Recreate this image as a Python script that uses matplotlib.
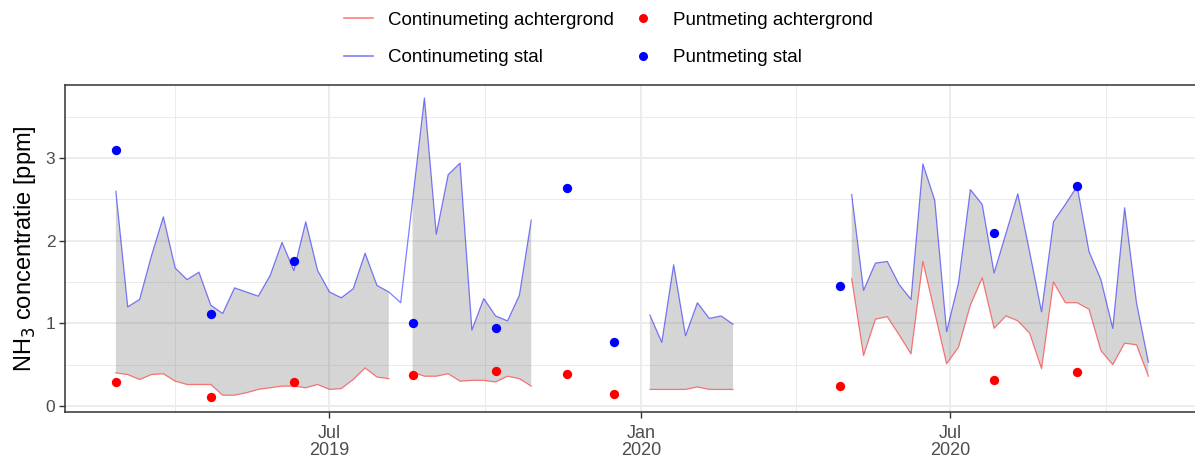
import numpy as np
import pandas as pd
import matplotlib
matplotlib.use("Agg")
import matplotlib.pyplot as plt
from matplotlib.lines import Line2D

plt.rcParams['font.family'] = ['Liberation Sans', 'DejaVu Sans']

nan = np.nan

# weekly continuous measurements (NaN = no data)
week_start = "2019-02-25"
stal_cont = (
    [2.60, 1.20, 1.29, 1.82, 2.29, 1.67, 1.53, 1.62, 1.22, 1.12, 1.43, 1.38,
     1.33, 1.58, 1.98, 1.64, 2.23, 1.64, 1.38, 1.31, 1.42, 1.85, 1.46, 1.38, 1.25]
    + [2.49, 3.73, 2.08, 2.80, 2.94, 0.92, 1.30, 1.09, 1.03, 1.34, 2.25]
    + [nan] * 9
    + [1.10, 0.77, 1.71, 0.85, 1.25, 1.06, 1.09, 0.99]
    + [nan] * 9
    + [2.56, 1.40, 1.73, 1.75, 1.47, 1.29, 2.93, 2.49, 0.90, 1.49, 2.62, 2.44, 1.61,
       2.09, 2.57, 1.86, 1.14, 2.23, 2.44, 2.66, 1.87, 1.53, 0.94, 2.40, 1.25, 0.53]
)
achter_cont = (
    [0.40, 0.38, 0.32, 0.38, 0.39, 0.30, 0.26, 0.26, 0.26, 0.13, 0.13, 0.16,
     0.20, 0.22, 0.24, 0.24, 0.22, 0.26, 0.20, 0.21, 0.32, 0.46, 0.35, 0.33, nan]
    + [0.41, 0.36, 0.36, 0.39, 0.30, 0.31, 0.31, 0.29, 0.36, 0.33, 0.24]
    + [nan] * 9
    + [0.20, 0.20, 0.20, 0.20, 0.23, 0.20, 0.20, 0.20]
    + [nan] * 9
    + [1.54, 0.61, 1.05, 1.08, 0.86, 0.63, 1.75, 1.13, 0.51, 0.71, 1.22, 1.55, 0.94,
       1.09, 1.03, 0.88, 0.45, 1.50, 1.25, 1.25, 1.17, 0.67, 0.50, 0.76, 0.74, 0.36]
)

# spot measurements
punt_dates = ["2019-02-25", "2019-04-22", "2019-06-10", "2019-08-19", "2019-10-07",
              "2019-11-18", "2019-12-16", "2020-04-27", "2020-07-27", "2020-09-14"]
punt_stal = [3.10, 1.11, 1.75, 1.01, 0.95, 2.64, 0.77, 1.45, 2.10, 2.66]
punt_achter = [0.29, 0.11, 0.29, 0.37, 0.42, 0.39, 0.14, 0.24, 0.32, 0.41]

major_dates = ["2019-07-01", "2020-01-01", "2020-07-01"]
major_labels = ["Jul\n2019", "Jan\n2020", "Jul\n2020"]
minor_dates = ["2019-04-01", "2019-10-01", "2020-04-01", "2020-10-01"]

dates = pd.date_range(week_start, periods=len(stal_cont), freq="7D")
stal_cont = np.array(stal_cont)
achter_cont = np.array(achter_cont)
punt_dates = pd.to_datetime(punt_dates)

fig = plt.figure(figsize=(11.95, 4.59), dpi=100)
ax = fig.add_axes([65 / 1195, 1 - 412 / 459, 1130 / 1195, 327 / 459])

ax.fill_between(dates, achter_cont, stal_cont, color="grey", alpha=0.33,
                linewidth=0, zorder=2)
ax.plot(dates, achter_cont, color="red", alpha=0.5, lw=0.9, zorder=3)
ax.plot(dates, stal_cont, color="blue", alpha=0.5, lw=0.9, zorder=3)
ax.scatter(punt_dates, punt_achter, s=45, color="red", linewidths=0, zorder=4)
ax.scatter(punt_dates, punt_stal, s=45, color="blue", linewidths=0, zorder=4)

ax.set_xlim(pd.Timestamp("2019-01-26"), pd.Timestamp("2020-11-22 12:00"))
ax.set_ylim(-0.073, 3.886)

ax.set_xticks(pd.to_datetime(major_dates))
ax.set_xticklabels(major_labels)
ax.set_xticks(pd.to_datetime(minor_dates), minor=True)
ax.set_yticks([0, 1, 2, 3])
ax.set_yticks([0.5, 1.5, 2.5, 3.5], minor=True)

ax.grid(which="major", color="#EBEBEB", lw=1.3, zorder=0)
ax.grid(which="minor", color="#EBEBEB", lw=0.7, zorder=0)
ax.set_axisbelow(True)

ax.tick_params(axis="both", which="major", length=4, width=1, color="#333333",
               labelcolor="#4D4D4D", pad=3)
ax.tick_params(axis="y", labelsize=12.5)
ax.tick_params(axis="x", labelsize=13, pad=5)
ax.tick_params(which="minor", length=0)
for lbl in ax.get_xticklabels():
    lbl.set_linespacing(1.02)

for side in ["left", "bottom", "top"]:
    ax.spines[side].set_color("#333333")
    ax.spines[side].set_linewidth(1.1)
ax.spines["right"].set_visible(False)

ax.set_ylabel("NH$_3$ concentratie [ppm]", fontsize=17)
ax.yaxis.set_label_coords(-0.0235, 0.5)

handles = [
    Line2D([], [], color="red", alpha=0.5, lw=1.2),
    Line2D([], [], color="blue", alpha=0.5, lw=1.2),
    Line2D([], [], color="red", marker="o", ls="none", markersize=6.5, markeredgewidth=0),
    Line2D([], [], color="blue", marker="o", ls="none", markersize=6.5, markeredgewidth=0),
]
labels = ["Continumeting achtergrond", "Continumeting stal",
          "Puntmeting achtergrond", "Puntmeting stal"]
fig.legend(handles, labels, ncol=2, loc="center", bbox_to_anchor=(608 / 1195, 1 - 39 / 459),
           frameon=False, fontsize=13.5, handlelength=1.55, handletextpad=0.8,
           columnspacing=0.8, labelspacing=1.1, borderpad=0)

fig.savefig("out.png", dpi=100)
